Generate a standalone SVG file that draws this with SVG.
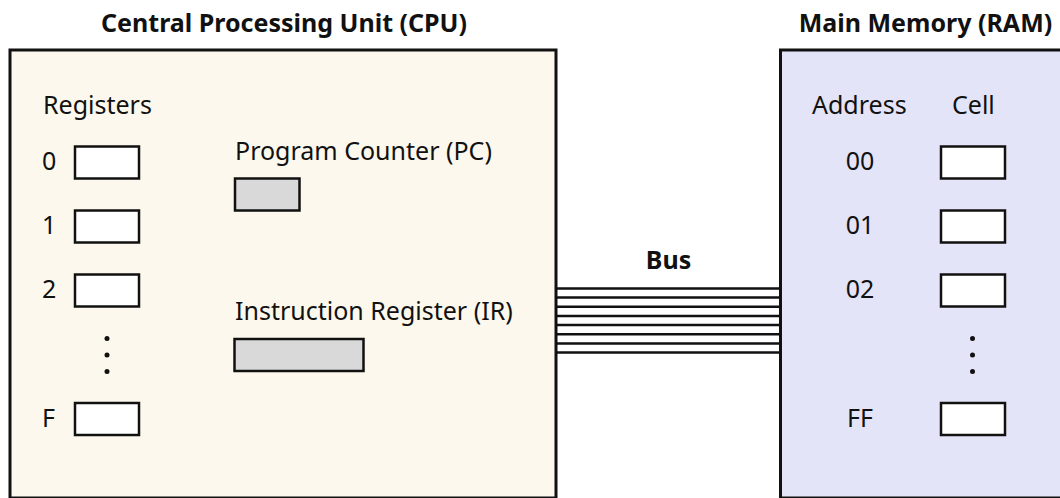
<svg xmlns="http://www.w3.org/2000/svg" width="1060" height="498" viewBox="0 0 1060 498">
<style>
text{font-family:"Noto Sans","Open Sans","DejaVu Sans",sans-serif;fill:#111;}
.t{font-size:25px;font-weight:bold;text-anchor:middle;}
.l{font-size:25px;}
.c{text-anchor:middle;}
.outer{stroke:#111;stroke-width:3;}
.cell{fill:#fff;stroke:#111;stroke-width:2.5;}
.gcell{fill:#d9d9d9;stroke:#111;stroke-width:2.5;}
.wire{stroke:#111;stroke-width:2.5;}
.dot{fill:#111;}
</style>
<rect width="1060" height="498" fill="#fff"/>
<g id="cpu">
<rect class="outer" x="10" y="50" width="546" height="448" fill="#fdf8ed"/>
<text class="t" x="284" y="32">Central Processing Unit (CPU)</text>
<text class="l" x="43" y="114">Registers</text>
<g id="reg0"><text class="l" x="42" y="170">0</text><rect class="cell" x="75" y="146.5" width="64" height="32"/></g>
<g id="reg1"><text class="l" x="42" y="234">1</text><rect class="cell" x="75" y="210.5" width="64" height="32"/></g>
<g id="reg2"><text class="l" x="42" y="298">2</text><rect class="cell" x="75" y="274.5" width="64" height="32"/></g>
<g id="regdots"><circle class="dot" cx="107" cy="338.5" r="2.5"/><circle class="dot" cx="107" cy="355" r="2.5"/><circle class="dot" cx="107" cy="371.5" r="2.5"/></g>
<g id="regF"><text class="l" x="42" y="427">F</text><rect class="cell" x="75" y="403" width="64" height="32"/></g>
<g id="pc"><text class="l" x="235" y="159.5">Program Counter (PC)</text><rect class="gcell" x="235" y="178.5" width="64.5" height="32"/></g>
<g id="ir"><text class="l" x="235" y="319.5">Instruction Register (IR)</text><rect class="gcell" x="234.5" y="339" width="129" height="32"/></g>
</g>
<g id="ram">
<rect class="outer" x="780.5" y="50" width="300" height="448" fill="#e4e4f8"/>
<text class="t" x="925.5" y="32">Main Memory (RAM)</text>
<text class="l" x="812" y="114">Address</text>
<text class="l" x="952" y="114">Cell</text>
<g id="m00"><text class="l c" x="860" y="170">00</text><rect class="cell" x="941" y="146.5" width="64" height="32"/></g>
<g id="m01"><text class="l c" x="860" y="234">01</text><rect class="cell" x="941" y="210.5" width="64" height="32"/></g>
<g id="m02"><text class="l c" x="860" y="298">02</text><rect class="cell" x="941" y="274.5" width="64" height="32"/></g>
<g id="memdots"><circle class="dot" cx="972.5" cy="338.5" r="2.5"/><circle class="dot" cx="972.5" cy="355" r="2.5"/><circle class="dot" cx="972.5" cy="371.5" r="2.5"/></g>
<g id="mFF"><text class="l c" x="860" y="427">FF</text><rect class="cell" x="941" y="403" width="64" height="32"/></g>
</g>
<g id="connectors">
<text class="t" x="668.5" y="269">Bus</text>
<g class="wire">
<line x1="556" y1="288.5" x2="780" y2="288.5"/>
<line x1="556" y1="297.6" x2="780" y2="297.6"/>
<line x1="556" y1="306.8" x2="780" y2="306.8"/>
<line x1="556" y1="315.9" x2="780" y2="315.9"/>
<line x1="556" y1="325.1" x2="780" y2="325.1"/>
<line x1="556" y1="334.2" x2="780" y2="334.2"/>
<line x1="556" y1="343.4" x2="780" y2="343.4"/>
<line x1="556" y1="352.5" x2="780" y2="352.5"/>
</g>
</g>
</svg>
